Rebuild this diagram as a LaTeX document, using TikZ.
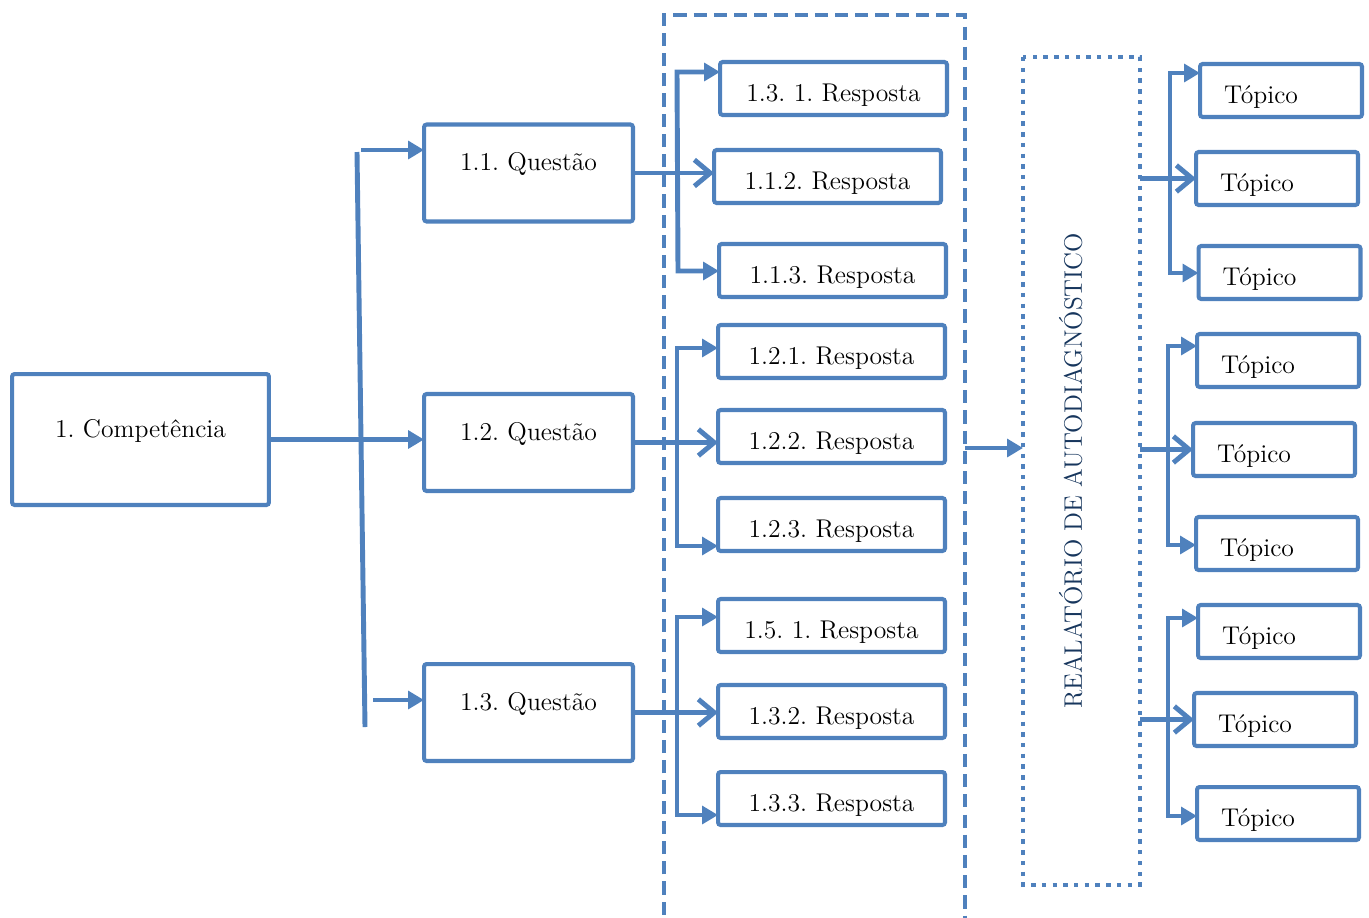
\documentclass[tikz,border=0pt]{standalone}
\usepackage{tikz}
\usetikzlibrary{arrows.meta}
\definecolor{officeblue}{RGB}{79,129,189}
\definecolor{reportnavy}{RGB}{23,54,93}
\frenchspacing

\begin{document}
\begin{tikzpicture}[x=0.02cm, y=-0.02cm,
    box/.style={rectangle, draw=officeblue, line width=2.3pt, rounded corners=1.5pt, inner sep=0pt, outer sep=0pt, font=\fontsize{14.6}{17}\selectfont},
    upper/.style={text depth=0.45cm},
    lower/.style={text height=0.6cm, text depth=0.1cm},
    qbox/.style={box, upper, minimum width=4.18cm, minimum height=1.94cm},
    resp/.style={box, lower, minimum width=4.54cm, minimum height=1.06cm},
    topic/.style={box, lower, text width=2.28cm, align=left, inner xsep=0.48cm, minimum height=1.06cm},
    report/.style={rectangle, draw=officeblue, line width=2.5pt, dash pattern=on 2.5pt off 3.6pt, rotate=90, minimum width=16.56cm, minimum height=2.34cm, text depth=0.44cm, inner sep=0pt, outer sep=0pt, text=reportnavy, font=\fontsize{14.4}{17}\selectfont},
    frame/.style={draw=officeblue, line width=2.8pt, dash pattern=on 7.5pt off 4pt},
    trunk/.style={draw=officeblue, line width=2.8pt},
    fillarrow/.style={trunk, arrows={-Triangle[length=9pt, width=10pt]}},
    bothtips/.style={trunk, arrows={Triangle[length=9pt, width=10pt]-Triangle[length=9pt, width=10pt]}},
    openarrow/.style={trunk, arrows={-Straight Barb[length=9pt, width=15pt]}}
]
    \useasboundingbox (0,0) rectangle (1369,917);

    % Competencia and questions
    \node[box, upper, minimum width=5.14cm, minimum height=2.62cm] (comp) at (140.5,439.5) {1. Competência};
    \node[qbox] (q1) at (528.5,173) {1.1. Questão};
    \node[qbox] (q2) at (528.5,442.5) {1.2. Questão};
    \node[qbox] (q3) at (528.5,712.5) {1.3. Questão};

    % Answers
    \node[resp] (r11) at (833.5,88.5) {1.3. 1. Resposta};
    \node[resp] (r12) at (827.5,176.5) {1.1.2. Resposta};
    \node[resp] (r13) at (832.5,270.5) {1.1.3. Resposta};
    \node[resp] (r21) at (831.5,351.5) {1.2.1. Resposta};
    \node[resp] (r22) at (831.5,436.5) {1.2.2. Resposta};
    \node[resp] (r23) at (831.5,524.5) {1.2.3. Resposta};
    \node[resp] (r31) at (831.5,625.5) {1.5. 1. Resposta};
    \node[resp] (r32) at (831.5,711.5) {1.3.2. Resposta};
    \node[resp] (r33) at (831.5,798.5) {1.3.3. Resposta};

    % Report (rotated, so north is its left side)
    \node[report] (rel) at (1081.5,471) {REALATÓRIO DE AUTODIAGNÓSTICO};

    % Topics
    \node[topic] (p11) at (1281,90.5) {Tópico};
    \node[topic] (p12) at (1277,178.5) {Tópico};
    \node[topic] (p13) at (1279.5,272.5) {Tópico};
    \node[topic] (p21) at (1278,360.5) {Tópico};
    \node[topic] (p22) at (1274,449.5) {Tópico};
    \node[topic] (p23) at (1277,543.5) {Tópico};
    \node[topic] (p31) at (1279,631.5) {Tópico};
    \node[topic] (p32) at (1275,719.5) {Tópico};
    \node[topic] (p33) at (1278,813.5) {Tópico};

    % Dashed frame round the answers
    \draw[frame] (664,935) -- (664,15) -- (965,15) -- (965,935);
    \coordinate (fr) at (965,448);

    % Competencia tree
    \coordinate (ct) at (357,152);
    \coordinate (cb) at (365,727);
    \coordinate (c1) at (361,150);
    \coordinate (c3) at (373,700);
    \draw[trunk] (ct) -- (cb);
    \draw[fillarrow] (comp.east) -- (comp.east -| q2.west);
    \draw[fillarrow] (c1) -- (c1 -| q1.west);
    \draw[fillarrow] (c3) -- (c3 -| q3.west);

    % Answer trees
    \coordinate (a1) at (677,72);
    \coordinate (b1) at (678,271);
    \coordinate (a2) at (677,348);
    \coordinate (b2) at (677,546);
    \coordinate (a3) at (677,617);
    \coordinate (b3) at (677,815);
    \draw[bothtips] (a1 -| r11.west) -- (a1) -- (b1) -- (b1 -| r13.west);
    \draw[bothtips] (a2 -| r21.west) -- (a2) -- (b2) -- (b2 -| r23.west);
    \draw[bothtips] (a3 -| r31.west) -- (a3) -- (b3) -- (b3 -| r33.west);
    \draw[openarrow] (q1.east) -- (q1.east -| r12.west);
    \draw[openarrow] (q2.east) -- (q2.east -| r22.west);
    \draw[openarrow] (q3.east) -- (q3.east -| r32.west);

    % Frame to report
    \draw[fillarrow] (fr) -- (fr -| rel.north);

    % Topic trees
    \coordinate (t1) at (1170,73);
    \coordinate (u1) at (1170,273);
    \coordinate (t2) at (1168,346);
    \coordinate (u2) at (1168,545);
    \coordinate (t3) at (1168,618);
    \coordinate (u3) at (1168,816);
    \draw[bothtips] (t1 -| p11.west) -- (t1) -- (u1) -- (u1 -| p13.west);
    \draw[bothtips] (t2 -| p21.west) -- (t2) -- (u2) -- (u2 -| p23.west);
    \draw[bothtips] (t3 -| p31.west) -- (t3) -- (u3) -- (u3 -| p33.west);
    \draw[openarrow] (rel.south |- p12.west) -- (p12.west);
    \draw[openarrow] (rel.south |- p22.west) -- (p22.west);
    \draw[openarrow] (rel.south |- p32.west) -- (p32.west);
\end{tikzpicture}
\end{document}
